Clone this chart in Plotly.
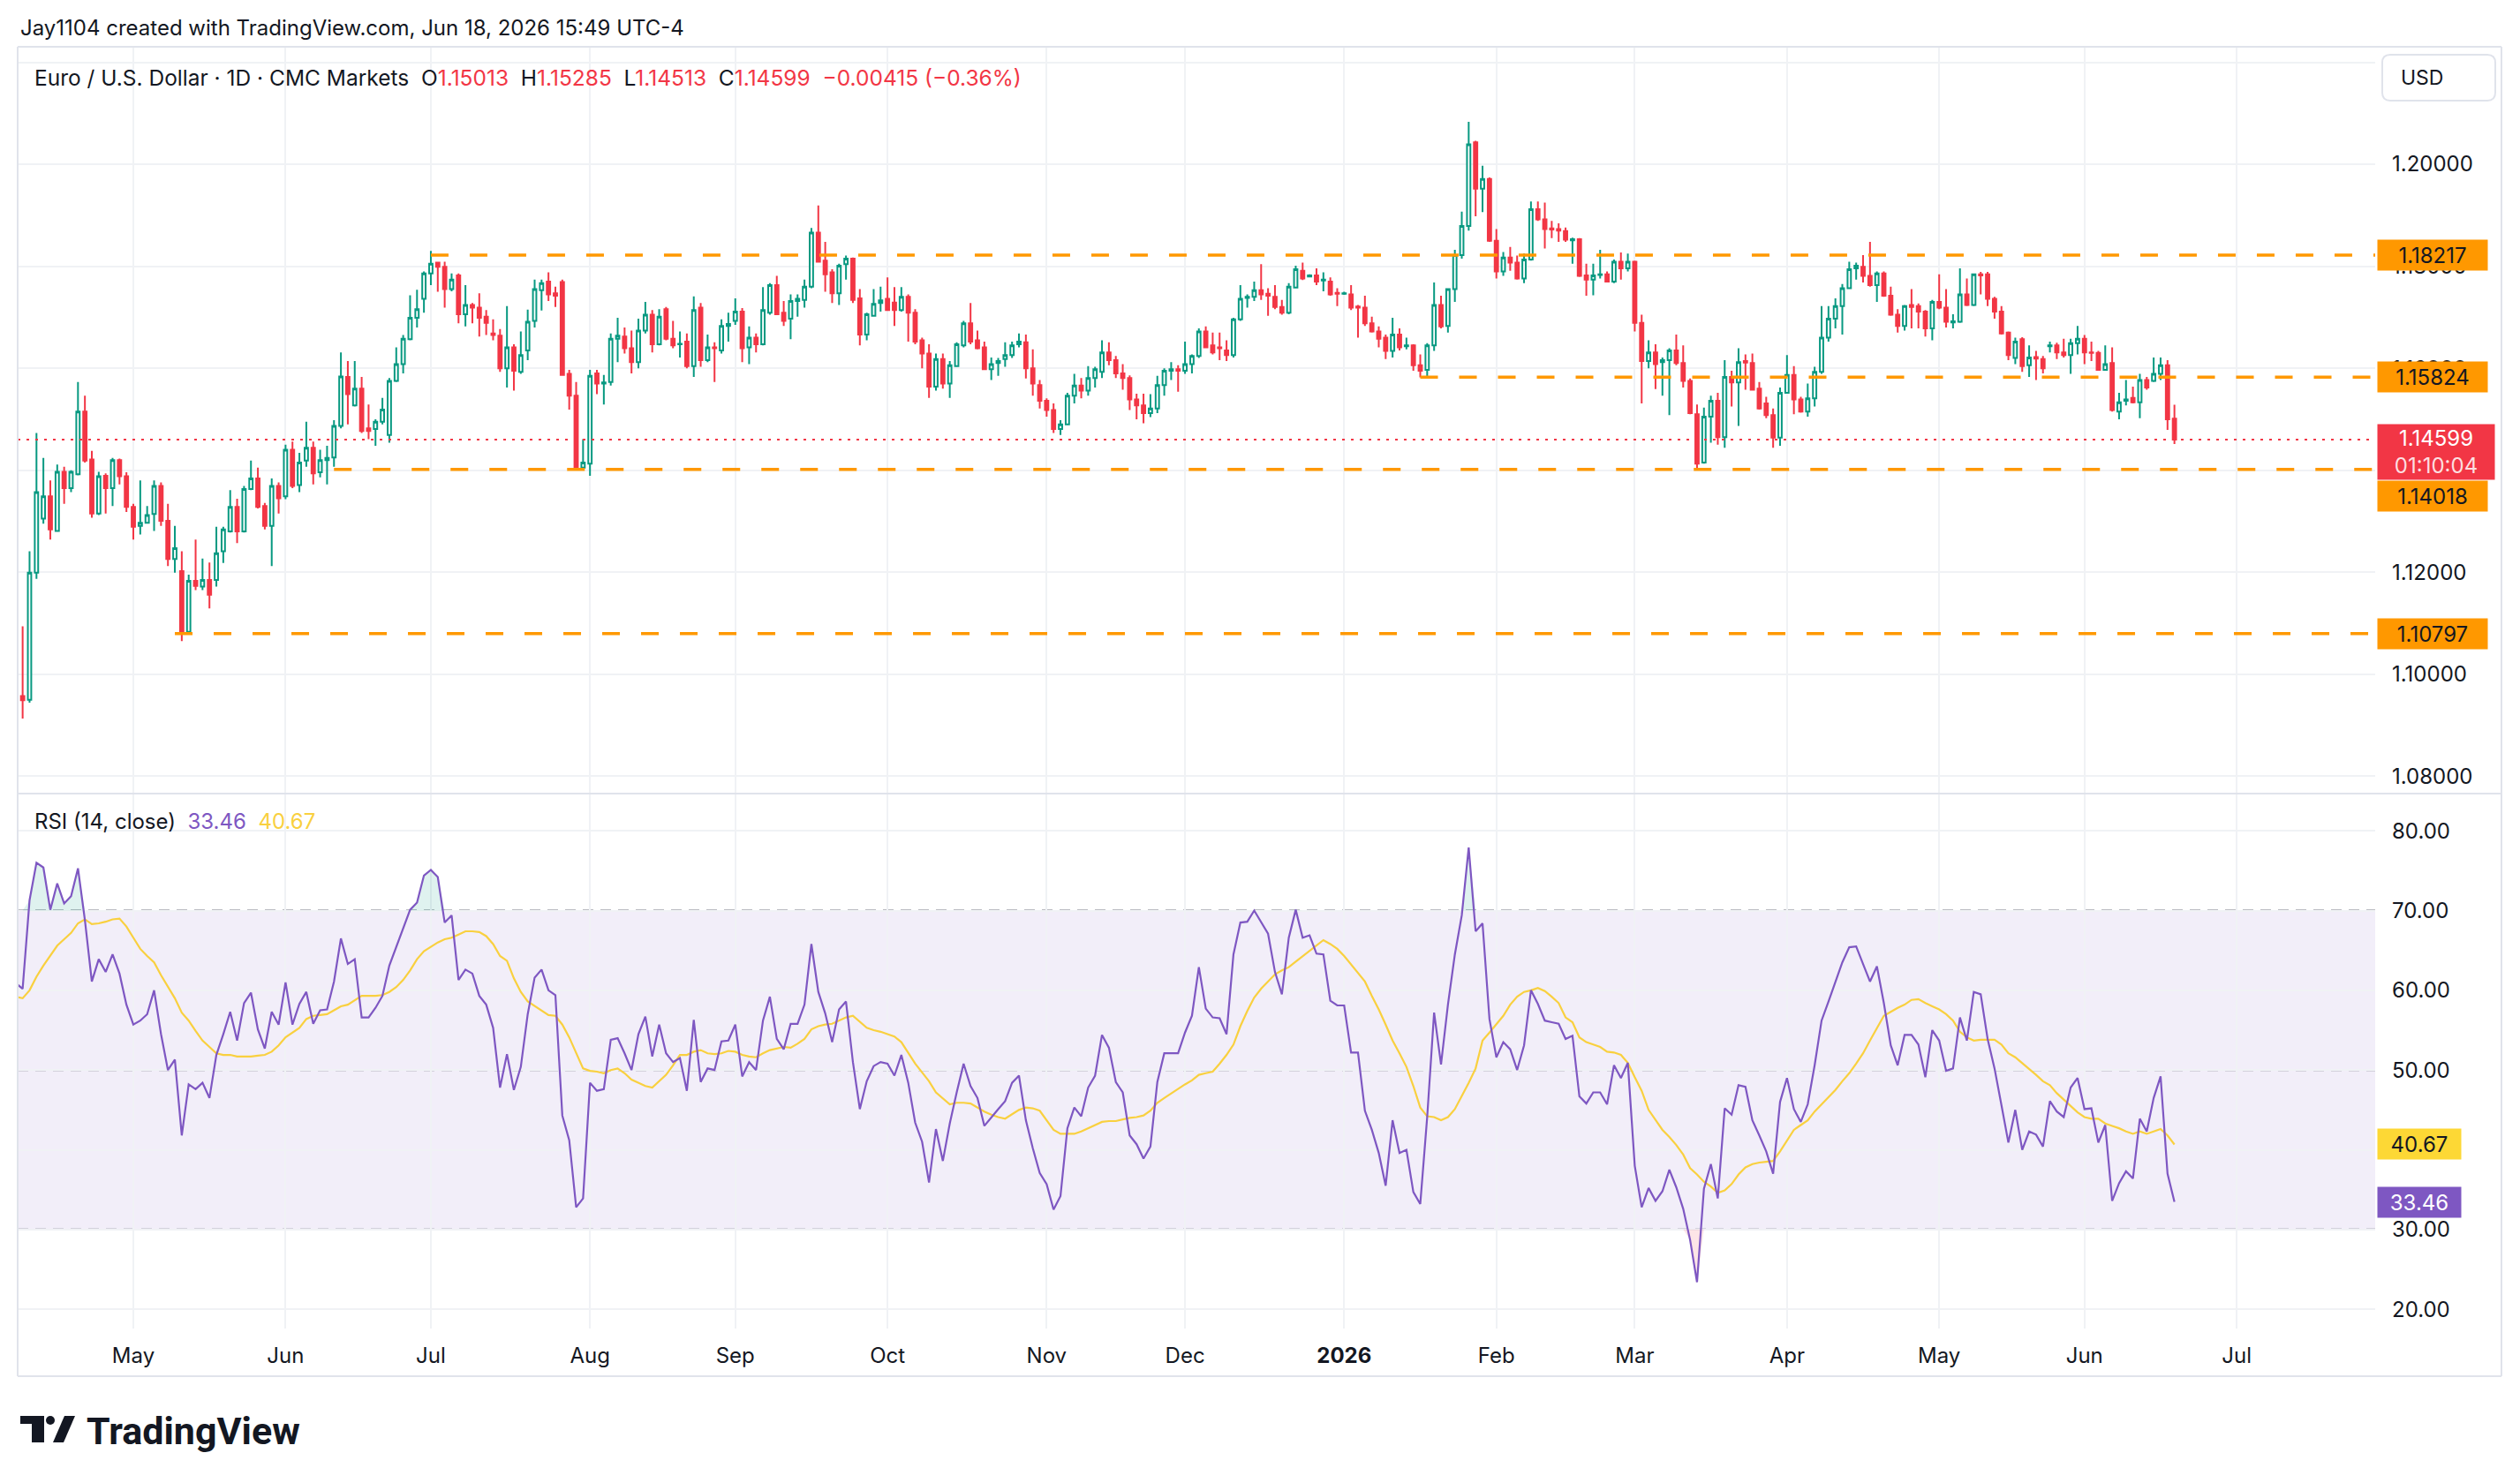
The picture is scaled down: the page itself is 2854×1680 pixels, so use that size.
import plotly.graph_objects as go
import pandas as pd

# ---------------- data ----------------
header_text = "Jay1104 created with TradingView.com, Jun 18, 2026 15:49 UTC-4"
symbol_title = "Euro / U.S. Dollar · 1D · CMC Markets"
start_date = "2025-04-08"
end_date = "2026-06-18"

opens = [
1.0915,1.0957,1.0950,1.1199,1.1305,1.1349,1.1281,1.1397,1.1365,1.1392,
1.1515,1.1421,1.1315,1.1389,1.1365,1.1420,1.1388,1.1328,1.1291,1.1297,
1.1314,1.1369,1.1301,1.1226,1.1202,1.1083,1.1183,1.1172,1.1185,1.1185,
1.1241,1.1280,1.1328,1.1280,1.1363,1.1384,1.1330,1.1291,1.1369,1.1349,
1.1440,1.1371,1.1419,1.1444,1.1396,1.1420,1.1425,1.1487,1.1583,1.1527,
1.1560,1.1482,1.1481,1.1495,1.1469,1.1575,1.1608,1.1657,1.1699,1.1736,
1.1786,1.1807,1.1799,1.1755,1.1782,1.1706,1.1724,1.1719,1.1701,1.1668,
1.1664,1.1600,1.1641,1.1593,1.1635,1.1693,1.1753,1.1770,1.1747,1.1769,
1.1589,1.1546,1.1405,1.1413,1.1590,1.1570,1.1573,1.1658,1.1662,1.1639,
1.1612,1.1674,1.1705,1.1647,1.1716,1.1658,1.1647,1.1652,1.1604,1.1719,
1.1616,1.1641,1.1635,1.1683,1.1693,1.1711,1.1641,1.1660,1.1647,1.1709,
1.1763,1.1709,1.1697,1.1732,1.1734,1.1760,1.1866,1.1811,1.1788,1.1747,
1.1804,1.1815,1.1737,1.1666,1.1703,1.1728,1.1736,1.1729,1.1714,1.1740,
1.1709,1.1655,1.1629,1.1564,1.1618,1.1570,1.1604,1.1645,1.1688,1.1655,
1.1641,1.1598,1.1610,1.1618,1.1626,1.1647,1.1651,1.1600,1.1567,1.1536,
1.1518,1.1481,1.1490,1.1546,1.1566,1.1556,1.1581,1.1593,1.1631,1.1616,
1.1590,1.1581,1.1539,1.1527,1.1512,1.1521,1.1567,1.1595,1.1598,1.1595,
1.1608,1.1624,1.1672,1.1645,1.1641,1.1635,1.1626,1.1696,1.1738,1.1740,
1.1753,1.1746,1.1740,1.1720,1.1709,1.1758,1.1791,1.1780,1.1782,1.1772,
1.1770,1.1748,1.1746,1.1745,1.1721,1.1719,1.1688,1.1672,1.1660,1.1634,
1.1666,1.1643,1.1645,1.1606,1.1597,1.1645,1.1724,1.1683,1.1755,1.1822,
1.1879,1.2043,1.1952,1.1971,1.1850,1.1790,1.1817,1.1807,1.1776,1.1813,
1.1912,1.1892,1.1874,1.1873,1.1869,1.1851,1.1853,1.1782,1.1774,1.1783,
1.1784,1.1770,1.1809,1.1796,1.1809,1.1689,1.1614,1.1631,1.1612,1.1616,
1.1635,1.1610,1.1575,1.1510,1.1415,1.1505,1.1536,1.1465,1.1583,1.1572,
1.1614,1.1610,1.1560,1.1531,1.1508,1.1464,1.1552,1.1587,1.1539,1.1515,
1.1541,1.1593,1.1660,1.1697,1.1722,1.1757,1.1796,1.1799,1.1781,1.1763,
1.1786,1.1742,1.1705,1.1683,1.1724,1.1722,1.1711,1.1678,1.1730,1.1719,
1.1690,1.1691,1.1745,1.1724,1.1784,1.1784,1.1736,1.1711,1.1670,1.1620,
1.1657,1.1606,1.1622,1.1618,1.1643,1.1645,1.1631,1.1626,1.1649,1.1658,
1.1631,1.1630,1.1597,1.1610,1.1515,1.1536,1.1542,1.1533,1.1577,1.1575,
1.1589,1.1606,1.15013]

highs = [
1.0965,1.1094,1.1241,1.1473,1.1424,1.1380,1.1411,1.1407,1.1400,1.1573,
1.1546,1.1438,1.1397,1.1394,1.1424,1.1423,1.1396,1.1334,1.1380,1.1330,
1.1380,1.1376,1.1334,1.1291,1.1241,1.1195,1.1264,1.1227,1.1219,1.1289,
1.1289,1.1361,1.1344,1.1369,1.1419,1.1405,1.1336,1.1384,1.1376,1.1450,
1.1456,1.1434,1.1495,1.1456,1.1440,1.1448,1.1498,1.1631,1.1614,1.1614,
1.1583,1.1529,1.1500,1.1542,1.1581,1.1641,1.1665,1.1743,1.1754,1.1790,
1.1830,1.1809,1.1809,1.1786,1.1786,1.1763,1.1728,1.1747,1.1714,1.1696,
1.1677,1.1722,1.1647,1.1672,1.1715,1.1774,1.1774,1.1788,1.1760,1.1774,
1.1597,1.1573,1.1461,1.1597,1.1597,1.1587,1.1668,1.1699,1.1680,1.1674,
1.1697,1.1730,1.1714,1.1716,1.1720,1.1693,1.1672,1.1668,1.1741,1.1728,
1.1666,1.1651,1.1696,1.1709,1.1737,1.1718,1.1682,1.1668,1.1759,1.1767,
1.1781,1.1732,1.1745,1.1745,1.1774,1.1875,1.1919,1.1848,1.1794,1.1805,
1.1821,1.1817,1.1755,1.1709,1.1755,1.1760,1.1778,1.1759,1.1759,1.1745,
1.1716,1.1660,1.1647,1.1629,1.1629,1.1614,1.1651,1.1693,1.1728,1.1674,
1.1652,1.1621,1.1620,1.1651,1.1652,1.1668,1.1666,1.1637,1.1577,1.1541,
1.1531,1.1498,1.1552,1.1589,1.1581,1.1604,1.1603,1.1655,1.1651,1.1624,
1.1608,1.1586,1.1550,1.1550,1.1549,1.1585,1.1600,1.1612,1.1606,1.1652,
1.1627,1.1678,1.1682,1.1670,1.1670,1.1655,1.1699,1.1763,1.1745,1.1770,
1.1804,1.1757,1.1763,1.1734,1.1767,1.1801,1.1807,1.1784,1.1796,1.1788,
1.1778,1.1757,1.1750,1.1763,1.1724,1.1742,1.1701,1.1682,1.1666,1.1699,
1.1678,1.1660,1.1647,1.1627,1.1649,1.1768,1.1742,1.1757,1.1832,1.1907,
1.2083,1.2046,1.1997,1.1974,1.1873,1.1828,1.1838,1.1821,1.1825,1.1927,
1.1927,1.1925,1.1889,1.1884,1.1876,1.1856,1.1855,1.1805,1.1805,1.1832,
1.1790,1.1813,1.1827,1.1825,1.1811,1.1705,1.1655,1.1647,1.1621,1.1639,
1.1666,1.1645,1.1580,1.1529,1.1523,1.1546,1.1552,1.1616,1.1595,1.1639,
1.1627,1.1629,1.1573,1.1544,1.1521,1.1562,1.1626,1.1604,1.1544,1.1570,
1.1603,1.1722,1.1722,1.1737,1.1765,1.1809,1.1807,1.1822,1.1848,1.1790,
1.1790,1.1760,1.1716,1.1724,1.1755,1.1727,1.1714,1.1734,1.1784,1.1755,
1.1706,1.1796,1.1776,1.1786,1.1789,1.1789,1.1740,1.1722,1.1672,1.1660,
1.1661,1.1645,1.1634,1.1624,1.1652,1.1650,1.1658,1.1658,1.1683,1.1665,
1.1652,1.1634,1.1645,1.1641,1.1552,1.1577,1.1564,1.1589,1.1583,1.1621,
1.1621,1.1616,1.15285]

lows = [
1.0895,1.0913,1.0944,1.1187,1.1295,1.1264,1.1280,1.1334,1.1357,1.1390,
1.1415,1.1307,1.1312,1.1315,1.1330,1.1372,1.1318,1.1264,1.1274,1.1295,
1.1281,1.1291,1.1212,1.1199,1.1065,1.1080,1.1165,1.1165,1.1129,1.1172,
1.1218,1.1278,1.1257,1.1278,1.1361,1.1325,1.1284,1.1212,1.1315,1.1343,
1.1365,1.1357,1.1407,1.1372,1.1386,1.1372,1.1407,1.1482,1.1490,1.1525,
1.1473,1.1461,1.1448,1.1490,1.1454,1.1573,1.1590,1.1655,1.1680,1.1709,
1.1763,1.1750,1.1719,1.1751,1.1688,1.1682,1.1688,1.1662,1.1665,1.1655,
1.1593,1.1562,1.1556,1.1589,1.1616,1.1680,1.1713,1.1732,1.1720,1.1585,
1.1519,1.1403,1.1403,1.1389,1.1549,1.1529,1.1566,1.1612,1.1629,1.1590,
1.1600,1.1668,1.1631,1.1645,1.1655,1.1639,1.1621,1.1600,1.1583,1.1603,
1.1612,1.1573,1.1629,1.1652,1.1685,1.1612,1.1608,1.1631,1.1645,1.1705,
1.1705,1.1683,1.1657,1.1701,1.1719,1.1757,1.1809,1.1750,1.1728,1.1724,
1.1774,1.1728,1.1645,1.1655,1.1701,1.1711,1.1713,1.1683,1.1711,1.1652,
1.1647,1.1600,1.1542,1.1556,1.1560,1.1542,1.1603,1.1641,1.1647,1.1637,
1.1597,1.1577,1.1585,1.1603,1.1620,1.1641,1.1580,1.1546,1.1521,1.1505,
1.1473,1.1469,1.1488,1.1531,1.1541,1.1546,1.1562,1.1581,1.1606,1.1581,
1.1558,1.1518,1.1500,1.1492,1.1504,1.1512,1.1546,1.1577,1.1554,1.1589,
1.1590,1.1620,1.1639,1.1627,1.1616,1.1614,1.1621,1.1693,1.1719,1.1732,
1.1734,1.1703,1.1716,1.1705,1.1706,1.1757,1.1773,1.1778,1.1763,1.1751,
1.1742,1.1722,1.1744,1.1714,1.1660,1.1683,1.1670,1.1641,1.1618,1.1621,
1.1635,1.1637,1.1595,1.1582,1.1581,1.1634,1.1678,1.1670,1.1730,1.1815,
1.1870,1.1898,1.1906,1.1848,1.1776,1.1781,1.1791,1.1774,1.1767,1.1811,
1.1889,1.1835,1.1855,1.1848,1.1848,1.1805,1.1779,1.1742,1.1743,1.1776,
1.1768,1.1767,1.1774,1.1790,1.1672,1.1531,1.1600,1.1559,1.1546,1.1508,
1.1606,1.1562,1.1510,1.1403,1.1413,1.1454,1.1450,1.1444,1.1525,1.1487,
1.1558,1.1556,1.1519,1.1502,1.1444,1.1448,1.1550,1.1510,1.1513,1.1505,
1.1525,1.1589,1.1652,1.1678,1.1666,1.1755,1.1774,1.1768,1.1760,1.1730,
1.1740,1.1703,1.1670,1.1674,1.1678,1.1678,1.1662,1.1655,1.1716,1.1680,
1.1678,1.1689,1.1722,1.1722,1.1745,1.1722,1.1697,1.1666,1.1616,1.1608,
1.1593,1.1583,1.1577,1.1590,1.1631,1.1618,1.1621,1.1589,1.1627,1.1608,
1.1614,1.1595,1.1595,1.1515,1.1500,1.1527,1.1531,1.1502,1.1558,1.1573,
1.1577,1.1479,1.14513]

closes = [
1.0955,1.0949,1.1199,1.1357,1.1349,1.1284,1.1397,1.1365,1.1397,1.1515,
1.1419,1.1315,1.1388,1.1365,1.1420,1.1388,1.1328,1.1289,1.1297,1.1312,
1.1369,1.1301,1.1226,1.1247,1.1083,1.1183,1.1173,1.1185,1.1156,1.1237,
1.1284,1.1328,1.1280,1.1363,1.1384,1.1328,1.1291,1.1369,1.1345,1.1440,
1.1369,1.1415,1.1444,1.1394,1.1420,1.1424,1.1487,1.1584,1.1549,1.1560,
1.1477,1.1477,1.1495,1.1519,1.1575,1.1608,1.1658,1.1699,1.1716,1.1786,
1.1805,1.1799,1.1755,1.1774,1.1706,1.1724,1.1719,1.1699,1.1689,1.1665,
1.1600,1.1641,1.1595,1.1626,1.1691,1.1755,1.1767,1.1745,1.1742,1.1587,
1.1546,1.1405,1.1415,1.1585,1.1570,1.1572,1.1658,1.1664,1.1639,1.1612,
1.1674,1.1705,1.1647,1.1701,1.1658,1.1645,1.1648,1.1604,1.1714,1.1616,
1.1641,1.1639,1.1683,1.1687,1.1711,1.1639,1.1660,1.1647,1.1714,1.1763,
1.1706,1.1693,1.1732,1.1736,1.1760,1.1866,1.1809,1.1784,1.1747,1.1801,
1.1815,1.1734,1.1666,1.1706,1.1726,1.1733,1.1714,1.1714,1.1740,1.1709,
1.1652,1.1629,1.1564,1.1618,1.1570,1.1606,1.1647,1.1688,1.1652,1.1639,
1.1598,1.1608,1.1614,1.1626,1.1645,1.1652,1.1600,1.1570,1.1536,1.1518,
1.1481,1.1490,1.1546,1.1566,1.1556,1.1581,1.1598,1.1631,1.1616,1.1590,
1.1581,1.1539,1.1527,1.1512,1.1521,1.1567,1.1595,1.1598,1.1595,1.1608,
1.1624,1.1672,1.1641,1.1631,1.1639,1.1626,1.1696,1.1736,1.1740,1.1753,
1.1745,1.1742,1.1720,1.1709,1.1760,1.1794,1.1776,1.1782,1.1770,1.1774,
1.1745,1.1746,1.1747,1.1719,1.1719,1.1688,1.1672,1.1658,1.1634,1.1666,
1.1641,1.1645,1.1606,1.1595,1.1645,1.1724,1.1682,1.1755,1.1822,1.1879,
1.2039,1.1952,1.1971,1.1850,1.1790,1.1817,1.1807,1.1776,1.1813,1.1912,
1.1892,1.1873,1.1872,1.1870,1.1852,1.1853,1.1781,1.1774,1.1782,1.1784,
1.1770,1.1809,1.1796,1.1809,1.1689,1.1614,1.1631,1.1608,1.1616,1.1635,
1.1610,1.1575,1.1512,1.1413,1.1505,1.1536,1.1465,1.1583,1.1572,1.1612,
1.1611,1.1558,1.1521,1.1508,1.1464,1.1552,1.1587,1.1539,1.1515,1.1541,
1.1593,1.1660,1.1697,1.1722,1.1757,1.1794,1.1801,1.1781,1.1763,1.1786,
1.1742,1.1705,1.1683,1.1722,1.1720,1.1711,1.1678,1.1730,1.1719,1.1691,
1.1692,1.1745,1.1724,1.1784,1.1782,1.1736,1.1711,1.1668,1.1626,1.1652,
1.1604,1.1621,1.1619,1.1600,1.1645,1.1631,1.1626,1.1649,1.1658,1.1631,
1.1630,1.1597,1.1608,1.1518,1.1533,1.1539,1.1533,1.1577,1.1562,1.1589,
1.1606,1.1500,1.14599]

rsi = [
60.9,60.2,71.3,76.0,75.4,70.1,73.4,70.9,71.8,75.3,
68.8,61.1,63.9,62.3,64.5,62.1,58.2,55.7,56.2,57.0,
60.0,54.5,50.0,51.3,41.8,48.2,47.6,48.4,46.5,51.9,
54.5,57.3,53.7,58.4,59.7,55.1,52.7,57.3,55.7,61.0,
55.7,58.3,59.8,55.8,57.5,57.6,61.1,66.5,63.3,63.9,
56.6,56.6,57.8,59.3,63.1,65.4,67.8,70.1,71.0,74.4,
75.1,74.2,68.5,69.4,61.3,62.6,62.1,59.3,58.2,55.3,
47.8,52.0,47.5,50.4,57.0,61.6,62.6,60.0,59.4,44.3,
41.2,32.8,33.9,48.4,47.4,47.6,53.8,54.0,52.1,50.0,
54.5,56.7,51.7,55.7,52.1,51.0,51.5,47.4,56.3,48.5,
50.2,50.0,53.6,53.7,55.7,49.2,51.0,50.0,56.2,59.2,
53.9,52.6,55.8,55.8,58.2,65.8,59.8,57.1,53.5,57.6,
58.6,51.0,45.1,48.6,50.5,51.0,50.8,49.3,51.9,48.4,
43.4,41.0,35.9,42.6,38.6,43.3,47.2,50.8,48.0,46.5,
43.0,44.1,45.1,46.1,48.4,49.3,43.7,40.2,37.1,35.7,
32.5,34.2,42.7,45.3,44.2,47.8,49.3,54.4,52.8,48.5,
47.2,41.8,40.7,38.9,40.4,48.5,52.1,52.1,52.1,54.7,
56.8,62.9,57.7,56.6,56.5,54.5,64.5,68.5,68.6,70.0,
68.6,67.1,62.3,59.5,66.6,70.1,66.6,66.9,64.6,64.5,
58.7,58.1,58.1,52.2,52.2,44.9,42.5,39.6,35.5,43.7,
39.6,40.0,34.7,33.2,44.1,57.2,50.7,58.2,64.5,69.4,
77.9,67.4,68.4,56.4,51.6,53.5,52.6,50.0,53.1,60.0,
58.3,56.2,56.0,55.8,53.9,54.3,46.7,45.8,47.2,47.2,
45.7,50.6,49.0,50.9,38.0,32.8,35.2,33.6,34.8,37.5,
35.3,32.6,28.7,23.4,35.1,38.2,33.9,45.2,44.4,48.1,
47.9,43.7,41.8,39.8,37.0,46.0,49.0,45.1,43.5,45.7,
50.6,56.2,58.6,61.1,63.5,65.4,65.5,63.3,61.1,63.0,
58.4,53.1,50.6,54.4,54.4,53.2,49.1,55.0,53.7,49.9,
50.2,56.6,53.7,59.8,59.5,53.9,50.2,45.6,40.9,45.0,
40.0,42.3,41.9,40.4,46.1,44.8,44.1,47.8,49.0,45.1,
45.2,40.9,43.1,33.6,35.8,37.3,36.4,43.9,42.3,46.5,
49.2,37.0,33.46]

rsi_ma = [
59.2,59.0,60.0,61.7,63.1,64.3,65.6,66.4,67.2,68.4,
68.9,68.3,68.4,68.6,68.9,69.0,68.0,66.6,65.2,64.3,
63.5,61.9,60.4,59.0,57.2,56.2,54.9,53.7,52.9,52.1,
51.9,51.9,51.7,51.7,51.7,51.8,51.9,52.3,53.1,54.1,
54.7,55.3,56.4,56.8,56.9,57.0,57.5,58.0,58.2,58.8,
59.3,59.3,59.3,59.4,59.8,60.4,61.3,62.5,63.9,64.9,
65.5,66.0,66.4,66.6,67.0,67.4,67.4,67.3,66.8,65.8,
64.3,63.7,61.5,59.8,58.6,58.0,57.4,56.9,56.8,55.7,
54.1,52.1,50.2,49.9,49.8,49.6,50.0,50.2,49.6,48.8,
48.4,48.0,47.8,48.6,49.4,50.6,51.9,51.9,52.3,52.5,
52.1,52.0,52.1,52.4,52.3,51.9,51.7,51.6,52.1,52.5,
52.7,52.9,52.8,53.3,53.9,55.1,55.5,55.7,55.8,56.2,
56.6,56.8,56.0,55.3,55.0,54.8,54.5,54.2,53.5,52.1,
50.8,49.7,48.6,47.2,46.4,45.7,45.9,45.9,45.8,45.3,
44.8,44.4,44.1,43.9,44.5,45.0,45.3,45.2,44.9,43.7,
42.5,42.0,42.0,42.0,42.3,42.7,43.1,43.5,43.6,43.6,
43.8,44.0,44.1,44.3,44.9,45.9,46.5,47.1,47.6,48.2,
48.7,49.4,49.6,49.8,50.8,51.9,53.2,55.5,57.4,59.1,
60.2,61.1,62.0,62.5,62.9,63.6,64.3,64.9,65.6,66.3,
65.8,65.2,64.3,63.2,62.1,61.1,59.3,57.6,55.7,53.7,
52.1,50.4,48.0,45.3,44.2,44.1,43.7,44.1,45.1,46.7,
48.4,50.2,53.7,54.7,55.7,56.8,58.2,59.2,59.8,60.0,
60.3,59.9,59.2,58.4,56.6,56.0,54.1,53.5,53.2,52.9,
52.3,52.2,51.9,50.9,49.1,47.4,45.0,43.7,42.5,41.6,
40.6,39.4,37.7,36.9,36.0,35.4,34.6,34.9,35.7,36.9,
37.8,38.2,38.4,38.5,38.6,39.8,41.2,42.5,43.1,43.7,
44.8,45.7,46.7,47.5,48.6,49.6,50.8,52.1,53.7,55.3,
56.8,57.3,57.8,58.2,58.8,58.9,58.4,58.0,57.6,57.0,
56.2,54.8,54.1,53.7,53.8,53.8,53.8,53.2,52.1,51.6,
50.9,50.2,49.4,48.6,48.1,47.1,46.3,45.5,44.7,44.1,
43.9,43.9,43.3,43.0,42.7,42.3,42.0,42.3,42.0,42.3,
42.6,41.8,40.67]

month_labels = ["May", "Jun", "Jul", "Aug", "Sep", "Oct", "Nov", "Dec",
                "2026", "Feb", "Mar", "Apr", "May", "Jun", "Jul"]
price_ticks = [1.08, 1.10, 1.12, 1.14, 1.16, 1.18, 1.20, 1.22]
rsi_ticks = [20, 30, 40, 50, 60, 70, 80]
level_values = [1.18217, 1.15824, 1.14018, 1.10797]
level_start_dates = ["2025-07-01", "2026-01-16", "2025-06-11", "2025-05-09"]
change_text = "\u22120.00415 (\u22120.36%)"
countdown = "01:10:04"

# ---------------- geometry ----------------
W, H = 2854, 1680
ML, MR, MT, MB = 20, 164, 53, 175
PW = W - ML - MR
PH = H - MT - MB


def px_x(px):
    return (px - ML) / PW


def px_y(py):
    return (H - MB - py) / PH


dates = pd.bdate_range(start_date, end_date)
n = len(dates)
assert n == len(opens) == len(highs) == len(lows) == len(closes) == len(rsi) == len(rsi_ma)
xs = list(range(n))

cal = pd.bdate_range(start_date, "2026-07-31")
tick_idx = [i for i in range(1, len(cal)) if cal[i].month != cal[i - 1].month]
tick_text = ["<b>%s</b>" % t if t.isdigit() else t for t in month_labels]

BAR = 7.836
X0PX = 17.8
X_MIN = (ML - X0PX) / BAR
X_MAX = (W - MR - X0PX) / BAR

PPX = 0.02 / 115.54
P_HI = 1.20 + (186.07 - MT) * PPX
P_LO = 1.20 - (898 - 186.07) * PPX
RPX = 10 / 90.33
R_HI = 80 + (941.2 - 900) * RPX
R_LO = 80 - (H - MB - 941.2) * RPX

GREEN = "#089981"
RED = "#F23645"
ORANGE = "#FF9800"
PURPLE = "#7E57C2"
YELLOW = "#F9D03F"
GRID = "#F0F2F5"
TXT = "#131722"
FONT = "Inter, Roboto, sans-serif"

fig = go.Figure()

fig.add_trace(go.Candlestick(
    x=xs, open=opens, high=highs, low=lows, close=closes,
    increasing=dict(line=dict(color=GREEN, width=2), fillcolor="#FFFFFF"),
    decreasing=dict(line=dict(color=RED, width=2), fillcolor=RED),
    whiskerwidth=0, hoverinfo="skip", xaxis="x", yaxis="y", showlegend=False))

for lvl, sd in zip(level_values, level_start_dates):
    i0 = dates.get_loc(pd.Timestamp(sd))
    fig.add_trace(go.Scatter(
        x=[i0, X_MAX], y=[lvl, lvl], mode="lines",
        line=dict(color=ORANGE, width=3.5, dash="20px,24px"),
        hoverinfo="skip", xaxis="x", yaxis="y", showlegend=False))

over = [max(v, 70) for v in rsi]
under = [min(v, 30) for v in rsi]
fig.add_trace(go.Scatter(x=xs, y=[70] * n, mode="lines", line=dict(width=0),
                         hoverinfo="skip", xaxis="x2", yaxis="y2", showlegend=False))
fig.add_trace(go.Scatter(x=xs, y=over, mode="lines", line=dict(width=0), fill="tonexty",
                         fillcolor="rgba(8,153,129,0.13)", hoverinfo="skip",
                         xaxis="x2", yaxis="y2", showlegend=False))
fig.add_trace(go.Scatter(x=xs, y=[30] * n, mode="lines", line=dict(width=0),
                         hoverinfo="skip", xaxis="x2", yaxis="y2", showlegend=False))
fig.add_trace(go.Scatter(x=xs, y=under, mode="lines", line=dict(width=0), fill="tonexty",
                         fillcolor="rgba(242,54,69,0.13)", hoverinfo="skip",
                         xaxis="x2", yaxis="y2", showlegend=False))

fig.add_trace(go.Scatter(x=xs, y=rsi_ma, mode="lines", line=dict(color=YELLOW, width=2.2),
                         hoverinfo="skip", xaxis="x2", yaxis="y2", showlegend=False))
fig.add_trace(go.Scatter(x=xs, y=rsi, mode="lines", line=dict(color=PURPLE, width=2.2),
                         hoverinfo="skip", xaxis="x2", yaxis="y2", showlegend=False))

axis_common = dict(showgrid=True, gridcolor=GRID, gridwidth=2, zeroline=False,
                   showline=False, ticks="", fixedrange=True)

fig.update_layout(
    width=W, height=H,
    margin=dict(l=ML, r=MR, t=MT, b=MB, pad=0),
    paper_bgcolor="#FFFFFF", plot_bgcolor="#FFFFFF",
    showlegend=False, hovermode=False,
    font=dict(family=FONT, size=24, color=TXT),
    xaxis=dict(domain=[0, 1], range=[X_MIN, X_MAX], anchor="y", tickvals=tick_idx,
               showticklabels=False, rangeslider=dict(visible=False), **axis_common),
    xaxis2=dict(domain=[0, 1], range=[X_MIN, X_MAX], anchor="y2", matches="x",
                tickvals=tick_idx, ticktext=tick_text, ticklabelstandoff=14,
                tickfont=dict(size=24, color=TXT, family=FONT), **axis_common),
    yaxis=dict(domain=[px_y(898), 1], range=[P_LO, P_HI], anchor="x", side="right",
               tickvals=price_ticks,
               ticktext=["%.5f" % v if v < 1.21 else "" for v in price_ticks],
               ticklabelstandoff=18, tickfont=dict(size=24, color=TXT, family=FONT),
               **axis_common),
    yaxis2=dict(domain=[0, px_y(900)], range=[R_LO, R_HI], anchor="x2", side="right",
                tickvals=rsi_ticks, ticktext=["%.2f" % v for v in rsi_ticks],
                ticklabelstandoff=18, tickfont=dict(size=24, color=TXT, family=FONT),
                **axis_common),
)

shapes = []
shapes.append(dict(type="rect", xref="paper", x0=0, x1=1, yref="y2", y0=30, y1=70,
                   fillcolor="rgba(126,87,194,0.10)", line=dict(width=0), layer="below"))
for v in (70, 50, 30):
    shapes.append(dict(type="line", xref="paper", x0=0, x1=1, yref="y2", y0=v, y1=v,
                       line=dict(color="#787B86", width=2, dash="12px,8px"), layer="between"))
shapes.append(dict(type="line", xref="paper", x0=0, x1=1, yref="y", y0=closes[-1], y1=closes[-1],
                   line=dict(color=RED, width=2, dash="3px,7px"), layer="above"))
FR = "#E0E3EB"
for (x0, y0, x1, y1) in [(20, 53, 2833, 53), (20, 53, 20, 1559), (2833, 53, 2833, 1559),
                         (20, 1559, 2833, 1559), (20, 899, 2833, 899)]:
    shapes.append(dict(type="line", xref="paper", yref="paper",
                       x0=px_x(x0), x1=px_x(x1), y0=px_y(y0), y1=px_y(y1),
                       line=dict(color=FR, width=2), layer="above"))


def pt(px, py):
    return "%.6f,%.6f" % (px_x(px), px_y(py))


bx0, by0, bx1, by1, rr = 2698, 62, 2826, 114, 9
usd_path = ("M" + pt(bx0 + rr, by0) + " L" + pt(bx1 - rr, by0) + " Q" + pt(bx1, by0) + " " + pt(bx1, by0 + rr) +
            " L" + pt(bx1, by1 - rr) + " Q" + pt(bx1, by1) + " " + pt(bx1 - rr, by1) +
            " L" + pt(bx0 + rr, by1) + " Q" + pt(bx0, by1) + " " + pt(bx0, by1 - rr) +
            " L" + pt(bx0, by0 + rr) + " Q" + pt(bx0, by0) + " " + pt(bx0 + rr, by0) + " Z")
shapes.append(dict(type="path", xref="paper", yref="paper", path=usd_path,
                   fillcolor="#FFFFFF", line=dict(color=FR, width=2), layer="above"))

logo_t = ("M" + pt(23, 1604) + " L" + pt(50, 1604) + " L" + pt(50, 1634) + " L" + pt(36, 1634) +
          " L" + pt(36, 1613) + " L" + pt(23, 1613) + " Z")
logo_s = "M" + pt(60, 1634) + " L" + pt(72, 1634) + " L" + pt(85, 1604) + " L" + pt(73, 1604) + " Z"
shapes.append(dict(type="path", xref="paper", yref="paper", path=logo_t,
                   fillcolor="#131722", line=dict(width=0)))
shapes.append(dict(type="path", xref="paper", yref="paper", path=logo_s,
                   fillcolor="#131722", line=dict(width=0)))
shapes.append(dict(type="circle", xref="paper", yref="paper",
                   x0=px_x(52), x1=px_x(62), y0=px_y(1604), y1=px_y(1614),
                   fillcolor="#131722", line=dict(width=0)))
fig.update_layout(shapes=shapes)


def text_at(px, py, text, size=24, color=TXT, xanchor="left", family=FONT):
    fig.add_annotation(xref="paper", yref="paper", x=px_x(px), y=px_y(py), text=text,
                       showarrow=False, xanchor=xanchor, yanchor="middle",
                       font=dict(size=size, color=color, family=family))


sp = "&nbsp;"


def red(s):
    return "<span style='color:%s'>%s</span>" % (RED, s)


text_at(21, 32, header_text, size=24)
legend = (symbol_title + sp * 2 +
          "O" + red("%.5f" % opens[-1]) + sp * 2 +
          "H" + red("%.5f" % highs[-1]) + sp * 2 +
          "L" + red("%.5f" % lows[-1]) + sp * 2 +
          "C" + red("%.5f" % closes[-1]) + sp * 2 +
          red(change_text))
text_at(37, 88, legend, size=24.5)
rsi_legend = ("RSI (14, close)" + sp * 2 +
              "<span style='color:%s'>%.2f</span>" % (PURPLE, rsi[-1]) + sp * 2 +
              "<span style='color:%s'>%.2f</span>" % (YELLOW, rsi_ma[-1]))
text_at(37, 931, rsi_legend, size=24)
text_at(2717, 88, "USD", size=23)
text_at(96, 1621, "<b>TradingView</b>", size=43, family="Roboto, sans-serif")


def label_box(text, y, yref, bg, fg, width, height=30, yanchor="middle", yshift=0):
    fig.add_annotation(xref="paper", x=px_x(2692), xanchor="left", yref=yref, y=y,
                       yanchor=yanchor, yshift=yshift, text=text, showarrow=False,
                       bgcolor=bg, font=dict(color=fg, size=24, family=FONT),
                       width=width, height=height, borderpad=2, align="center", valign="middle")


for lvl in level_values:
    if lvl == 1.14018:
        label_box("%.5f" % lvl, closes[-1], "y", ORANGE, TXT, 120, yanchor="top", yshift=-46)
    else:
        label_box("%.5f" % lvl, lvl, "y", ORANGE, TXT, 120)
label_box("%.5f<br><span style='color:rgba(255,255,255,0.85)'>%s</span>" % (closes[-1], countdown),
          closes[-1], "y", RED, "#FFFFFF", 128, height=58, yanchor="top", yshift=18)
label_box("%.2f" % rsi_ma[-1], rsi_ma[-1], "y2", "#FDD835", TXT, 90)
label_box("%.2f" % rsi[-1], rsi[-1], "y2", PURPLE, "#FFFFFF", 90)

fig.write_html("out.html", config={"displayModeBar": False, "staticPlot": True})
